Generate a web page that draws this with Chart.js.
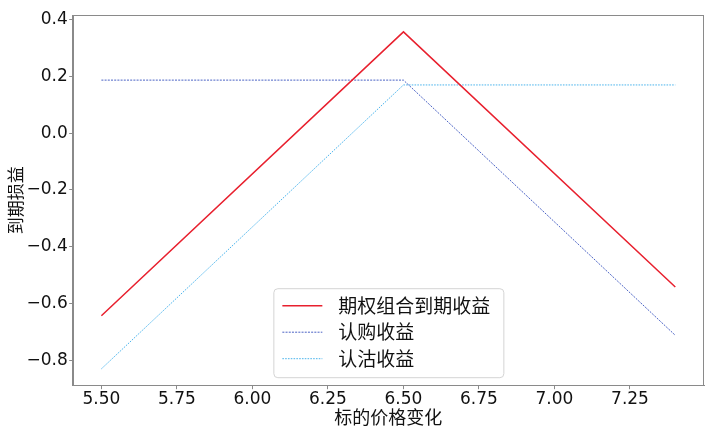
<!DOCTYPE html>
<html>
<head>
<meta charset="utf-8">
<script src="https://cdn.jsdelivr.net/npm/chart.js@4/dist/chart.umd.min.js"></script>
<style>
  html, body { margin: 0; padding: 0; background: #ffffff; }
  #wrap { width: 708px; height: 432px; }
</style>
</head>
<body>
<div id="wrap"><canvas id="c" width="708" height="432"></canvas></div>
<script>
// ---- data ----
const xValues      = [5.5, 6.5, 7.4];
const comboPayoff  = [-0.643, 0.357, -0.542];
const callPayoff   = [0.187, 0.187, -0.712];
const putPayoff    = [-0.830, 0.170, 0.170];
const seriesNames  = ['期权组合到期收益', '认购收益', '认沽收益'];
const xTicks       = [5.5, 5.75, 6.0, 6.25, 6.5, 6.75, 7.0, 7.25];
const xTickLabels  = ['5.50', '5.75', '6.00', '6.25', '6.50', '6.75', '7.00', '7.25'];
const yTicks       = [-0.8, -0.6, -0.4, -0.2, 0.0, 0.2, 0.4];
const yTickLabels  = ['\u22120.8', '\u22120.6', '\u22120.4', '\u22120.2', '0.0', '0.2', '0.4'];
const xTitle       = '标的价格变化';
const yTitle       = '到期损益';

const toPts = ys => xValues.map((x, i) => ({ x: x, y: ys[i] }));

const CJK = "'Noto Sans CJK SC', 'Noto Sans', sans-serif";
const NUM = "'DejaVu Sans', sans-serif";
const AXIS = '#8a8a8a';

const framePlugin = {
  id: 'frame',
  afterDatasetsDraw(chart) {
    const a = chart.chartArea, ctx = chart.ctx;
    ctx.save();
    ctx.strokeStyle = AXIS;
    ctx.lineWidth = 1;
    ctx.strokeRect(Math.round(a.left) + 0.5, Math.round(a.top) + 0.5,
                   Math.round(a.right - a.left) - 1, Math.round(a.bottom - a.top) - 1);
    ctx.restore();
  }
};

const legendPlugin = {
  id: 'mplLegend',
  afterDraw(chart) {
    const a = chart.chartArea, ctx = chart.ctx;
    const w = 230, h = 89;
    const left = (a.left + a.right) / 2 - w / 2;
    const top = a.bottom - 8.5 - h;
    ctx.save();
    ctx.beginPath();
    if (ctx.roundRect) ctx.roundRect(left + 0.5, top + 0.5, w, h, 4); else ctx.rect(left + 0.5, top + 0.5, w, h);
    ctx.fillStyle = 'rgba(255,255,255,0.85)';
    ctx.fill();
    ctx.strokeStyle = '#d4d4d4';
    ctx.lineWidth = 1;
    ctx.stroke();
    ctx.font = '19px ' + CJK;
    ctx.textBaseline = 'middle';
    ctx.fillStyle = '#111';
    chart.data.datasets.forEach((ds, i) => {
      const y = top + 17.5 + i * 26.5;
      ctx.beginPath();
      ctx.strokeStyle = ds.borderColor;
      ctx.lineWidth = ds.borderWidth;
      ctx.setLineDash(ds.borderDash || []);
      ctx.moveTo(left + 9, y);
      ctx.lineTo(left + 49, y);
      ctx.stroke();
      ctx.setLineDash([]);
      ctx.fillText(ds.label, left + 65, y);
    });
    ctx.restore();
  }
};

new Chart(document.getElementById('c'), {
  type: 'line',
  data: {
    datasets: [
      { label: seriesNames[0], data: toPts(comboPayoff), borderColor: '#e8202e', borderWidth: 1.5,
        pointRadius: 0, tension: 0, fill: false },
      { label: seriesNames[1], data: toPts(callPayoff), borderColor: '#4a62c4', borderWidth: 1,
        borderDash: [2, 1.2], pointRadius: 0, tension: 0, fill: false },
      { label: seriesNames[2], data: toPts(putPayoff), borderColor: '#4cb4ec', borderWidth: 1,
        borderDash: [1.6, 1.2], pointRadius: 0, tension: 0, fill: false }
    ]
  },
  options: {
    responsive: false,
    devicePixelRatio: 1,
    animation: false,
    layout: { padding: { left: 5, right: 4, top: 15, bottom: 0 } },
    plugins: { legend: { display: false }, tooltip: { enabled: false } },
    scales: {
      x: {
        type: 'linear',
        min: 5.405, max: 7.495,
        afterFit: s => { s.height = 46.3; },
        afterBuildTicks: s => { s.ticks = xTicks.map(v => ({ value: v })); },
        ticks: {
          autoSkip: false, maxRotation: 0, padding: 0,
          color: '#111', font: { family: NUM, size: 17 },
          callback: (v) => { const i = xTicks.findIndex(t => Math.abs(t - v) < 1e-9); return i >= 0 ? xTickLabels[i] : ''; }
        },
        grid: { display: true, drawOnChartArea: false, drawTicks: true, tickLength: 3.5, color: AXIS },
        border: { display: true, color: AXIS },
        title: { display: true, text: xTitle, color: '#111', font: { family: CJK, size: 18 }, padding: { top: 0, bottom: 4 } }
      },
      y: {
        type: 'linear',
        min: -0.8894, max: 0.4164,
        afterFit: s => { s.width = 67.7; },
        afterBuildTicks: s => { s.ticks = yTicks.map(v => ({ value: v })); },
        ticks: {
          autoSkip: false, padding: 1.5,
          color: '#111', font: { family: NUM, size: 17 },
          callback: (v) => { const i = yTicks.findIndex(t => Math.abs(t - v) < 1e-9); return i >= 0 ? yTickLabels[i] : ''; }
        },
        grid: { display: true, drawOnChartArea: false, drawTicks: true, tickLength: 3.5, color: AXIS },
        border: { display: true, color: AXIS },
        title: { display: true, text: yTitle, color: '#111', font: { family: CJK, size: 17 }, padding: { top: 0, bottom: 0 } }
      }
    }
  },
  plugins: [framePlugin, legendPlugin]
});
</script>
</body>
</html>
